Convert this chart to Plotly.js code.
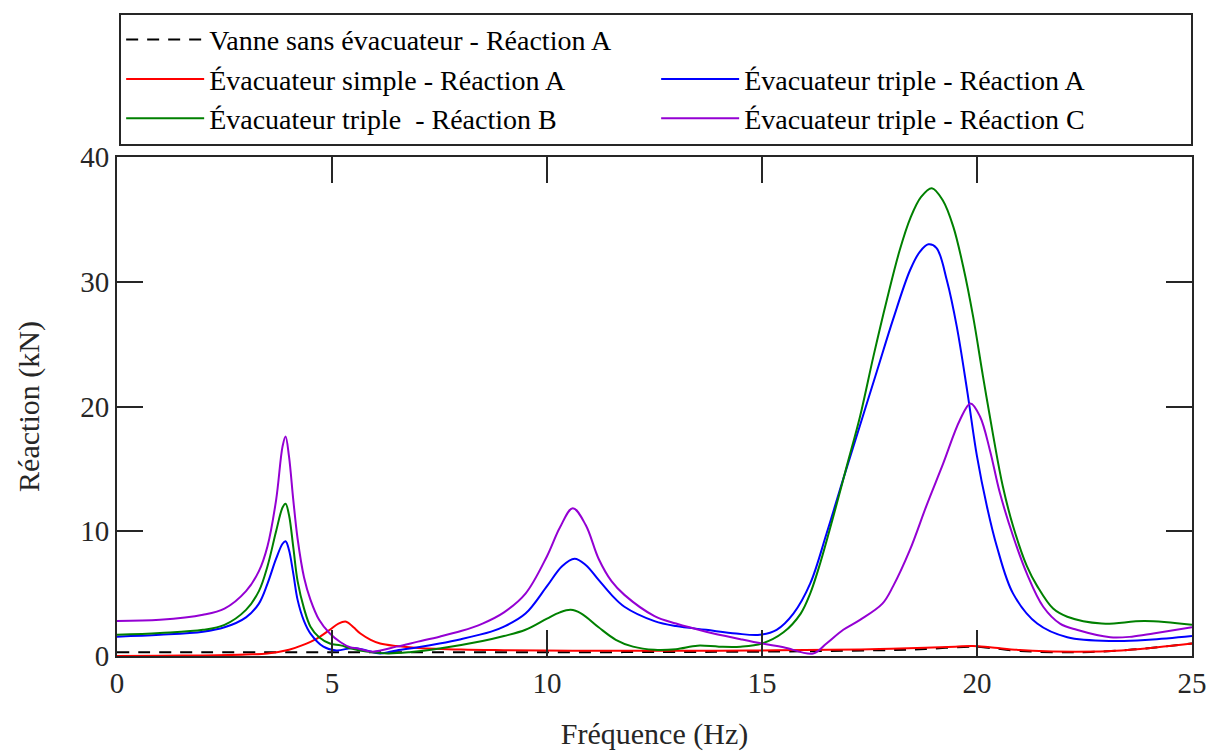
<!DOCTYPE html>
<html>
<head>
<meta charset="utf-8">
<script src="https://cdn.plot.ly/plotly-3.0.1.min.js"></script>
<style>html,body{margin:0;padding:0;background:#fff;}#chart{width:1208px;height:751px;}</style>
</head>
<body>
<div id="chart"></div>
<script>
// Vanne sans évacuateur - Réaction A
const freqNoSpill = [0, 5, 10, 15, 16.5, 18, 18.8, 19.9, 20.3, 21, 22.3, 23.5, 24.2, 25];
const reacNoSpill = [0.3, 0.3, 0.3, 0.35, 0.4, 0.48, 0.56, 0.75, 0.65, 0.4, 0.3, 0.48, 0.7, 1.0];

// Évacuateur simple - Réaction A
const freqSimpleA = [0, 1, 2, 3, 3.5, 4, 4.3, 4.65, 4.95, 5.15, 5.33, 5.5, 5.66, 5.9, 6.12, 6.5, 7, 8, 9, 10.6, 12, 14, 15, 16, 17.3, 18, 18.8, 19.5, 19.9, 20.3, 21, 21.6, 22.3, 23, 23.5, 24.2, 25];
const reacSimpleA = [0, 0.02, 0.05, 0.12, 0.2, 0.5, 0.85, 1.4, 2.1, 2.6, 2.75, 2.3, 1.8, 1.3, 1.0, 0.8, 0.65, 0.52, 0.47, 0.43, 0.42, 0.42, 0.45, 0.48, 0.53, 0.58, 0.67, 0.75, 0.8, 0.7, 0.48, 0.38, 0.35, 0.38, 0.48, 0.7, 1.0];

// Évacuateur triple - Réaction A
const freqTripleA = [0, 1, 2, 2.5, 3, 3.3, 3.5, 3.7, 3.85, 3.92, 4, 4.1, 4.2, 4.35, 4.5, 4.8, 5.1, 5.5, 5.8, 6.12, 6.5, 7, 7.5, 8, 8.7, 9, 9.5, 10, 10.35, 10.64, 10.9, 11.2, 11.5, 11.8, 12.5, 13, 13.7, 14.4, 14.95, 15.34, 15.73, 16.12, 16.5, 16.89, 17.28, 17.67, 18.05, 18.44, 18.67, 18.87, 19.06, 19.3, 19.53, 19.77, 20.0, 20.23, 20.46, 20.84, 21.4, 22.1, 23.2, 24, 25];
const reacTripleA = [1.55, 1.7, 1.95, 2.3, 3.1, 4.2, 5.8, 7.8, 9.0, 9.2, 8.5, 6.6, 4.5, 2.8, 1.8, 0.75, 0.45, 0.65, 0.45, 0.2, 0.45, 0.7, 1.0, 1.35, 1.95, 2.35, 3.4, 5.6, 7.2, 7.8, 7.3, 6.1, 4.9, 3.95, 2.8, 2.4, 2.1, 1.8, 1.7, 2.1, 3.4, 5.8, 9.8, 14.2, 18.5, 22.8, 27.0, 30.9, 32.4, 33.0, 32.7, 30.1, 26.4, 21.3, 16.0, 12.0, 8.8, 5.0, 2.6, 1.5, 1.2, 1.3, 1.6];

// Évacuateur triple - Réaction B
const freqTripleB = [0, 1, 2, 2.5, 3, 3.3, 3.5, 3.7, 3.85, 3.92, 4, 4.1, 4.2, 4.35, 4.5, 4.7, 4.95, 5.2, 5.45, 5.8, 6.3, 6.8, 7.5, 8.5, 9, 9.5, 10, 10.3, 10.55, 10.8, 11.2, 11.6, 12, 12.5, 13, 13.5, 14, 14.5, 15, 15.5, 15.9, 16.12, 16.35, 16.66, 16.97, 17.28, 17.59, 17.9, 18.2, 18.45, 18.7, 18.95, 19.21, 19.45, 19.68, 19.91, 20.14, 20.38, 20.6, 20.84, 21.16, 21.4, 21.77, 22.1, 22.9, 23.9, 25];
const reacTripleB = [1.7, 1.85, 2.1, 2.5, 3.7, 5.2, 7.2, 10.0, 11.9, 12.2, 11.3, 8.7, 6.0, 3.8, 2.35, 1.5, 1.0, 0.85, 0.6, 0.35, 0.2, 0.3, 0.6, 1.2, 1.6, 2.1, 3.0, 3.5, 3.7, 3.4, 2.3, 1.3, 0.75, 0.5, 0.55, 0.83, 0.75, 0.75, 1.0, 1.9, 3.4, 5.0, 7.4, 11.2, 15.2, 19.2, 24.0, 28.5, 32.5, 35.1, 36.8, 37.5, 36.5, 34.4, 31.2, 27.2, 22.4, 17.6, 13.6, 10.4, 7.2, 5.6, 3.8, 3.15, 2.6, 2.8, 2.5];

// Évacuateur triple - Réaction C
const freqTripleC = [0, 1, 2, 2.5, 3, 3.3, 3.5, 3.7, 3.85, 3.92, 4, 4.1, 4.2, 4.35, 4.5, 4.7, 4.95, 5.2, 5.42, 5.6, 5.95, 6.5, 7, 7.5, 8, 8.5, 9, 9.5, 10, 10.3, 10.6, 10.9, 11.2, 11.5, 11.8, 12.5, 13, 13.7, 14.5, 15, 15.5, 16.19, 16.5, 16.89, 17.28, 17.8, 18.05, 18.44, 18.83, 19.21, 19.6, 19.85, 20.07, 20.3, 20.53, 20.84, 21.16, 21.54, 21.93, 22.32, 23.1, 23.6, 24.1, 25];
const reacTripleC = [2.8, 2.9, 3.3, 3.8, 5.2, 6.8, 8.8, 12.5, 16.8, 17.6, 16.0, 12.5, 9.4, 6.3, 4.5, 2.9, 1.8, 1.1, 0.7, 0.6, 0.35, 0.75, 1.15, 1.55, 2.0, 2.6, 3.5, 5.0, 8.0, 10.3, 11.85, 10.5, 7.8, 6.0, 4.9, 3.2, 2.6, 1.95, 1.35, 1.0, 0.7, 0.2, 1.0, 2.1, 2.9, 4.2, 5.6, 8.5, 12.1, 15.4, 18.9, 20.25, 19.2, 16.5, 13.1, 9.6, 6.6, 3.95, 2.6, 2.1, 1.5, 1.55, 1.8, 2.3];

const seriesNames = [
  'Vanne sans évacuateur - Réaction A',
  'Évacuateur simple - Réaction A',
  'Évacuateur triple - Réaction A',
  'Évacuateur triple  - Réaction B',
  'Évacuateur triple - Réaction C'
];

const font = 'Liberation Serif';
const sp = {shape: 'spline', smoothing: 1.0, width: 2};

const traces = [
  {x: freqNoSpill, y: reacNoSpill, name: seriesNames[0], mode: 'lines', line: Object.assign({}, sp, {color: '#000000', dash: '12px,9px'})},
  {x: [null], y: [null], name: ' ', mode: 'lines', line: {color: 'rgba(0,0,0,0)', width: 0}, hoverinfo: 'skip'},
  {x: freqSimpleA, y: reacSimpleA, name: seriesNames[1], mode: 'lines', line: Object.assign({}, sp, {color: '#ff0000'})},
  {x: freqTripleA, y: reacTripleA, name: seriesNames[2], mode: 'lines', line: Object.assign({}, sp, {color: '#0000ff'})},
  {x: freqTripleB, y: reacTripleB, name: seriesNames[3], mode: 'lines', line: Object.assign({}, sp, {color: '#008000'})},
  {x: freqTripleC, y: reacTripleC, name: seriesNames[4], mode: 'lines', line: Object.assign({}, sp, {color: '#9400d3'})}
];

const axisCommon = {
  showgrid: false, zeroline: false,
  showline: true, mirror: 'ticks', linecolor: '#262626', linewidth: 2,
  ticks: 'inside', ticklen: 26, tickwidth: 2, tickcolor: '#262626',
  tickfont: {family: font, size: 29, color: '#262626'}
};

const layout = {
  width: 1208, height: 751,
  margin: {l: 117, r: 16, t: 157, b: 95},
  paper_bgcolor: '#ffffff', plot_bgcolor: '#ffffff',
  font: {family: font, size: 28, color: '#000000'},
  showlegend: true,
  legend: {
    orientation: 'h', x: 0.002, y: 1.289, xanchor: 'left', yanchor: 'top',
    entrywidth: 442, entrywidthmode: 'pixels',
    traceorder: 'normal',
    bordercolor: '#262626', borderwidth: 2, bgcolor: '#ffffff',
    font: {family: font, size: 28, color: '#000000'},
    itemwidth: 78
  },
  xaxis: Object.assign({}, axisCommon, {
    range: [0, 25], tickvals: [0, 5, 10, 15, 20, 25],
    title: {text: 'Fréquence (Hz)', font: {family: font, size: 30, color: '#262626'}, standoff: 35}
  }),
  yaxis: Object.assign({}, axisCommon, {
    range: [0, 40], tickvals: [0, 10, 20, 30, 40],
    title: {text: 'Réaction (kN)', font: {family: font, size: 30, color: '#262626'}, standoff: 32}
  })
};

Plotly.newPlot('chart', traces, layout, {displayModeBar: false, staticPlot: true});
</script>
</body>
</html>
